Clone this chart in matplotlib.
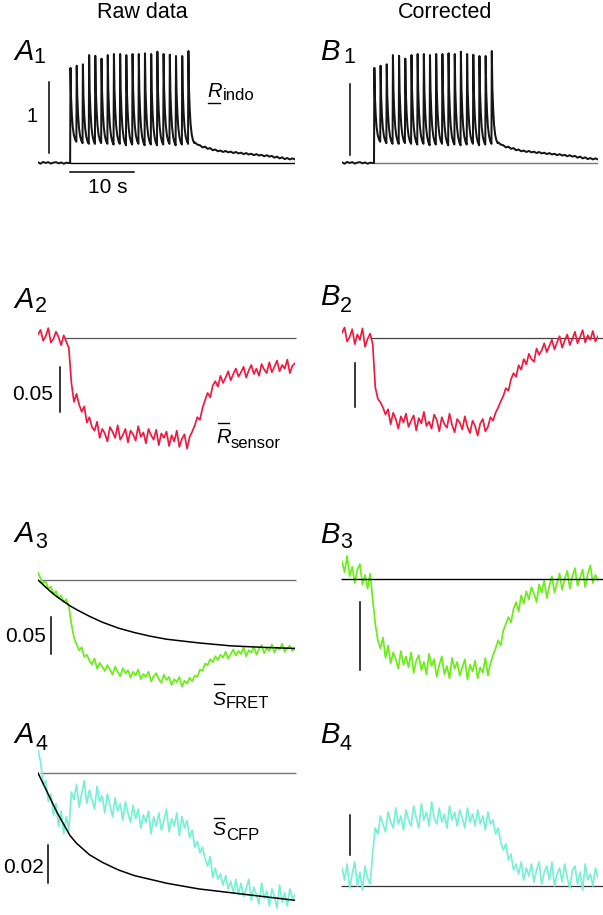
import numpy as np
import matplotlib.pyplot as plt
from matplotlib.lines import Line2D

plt.rcParams['font.family'] = ['Liberation Sans', 'DejaVu Sans']

W, H = 603, 915

# imaging traces are sampled every 0.4 s over 40 s (101 samples)
sample_dt = 0.4
t = np.arange(101) * sample_dt

# ---- indo-1 ratio (A1 / B1), 20 pulses at ~1 Hz ----
pulse_onsets = [5.00, 5.97, 6.93, 7.90, 8.86, 9.83, 10.80, 11.76, 12.73, 13.69,
                14.66, 15.63, 16.59, 17.56, 18.52, 19.49, 20.46, 21.42, 22.39, 23.35]
pulse_peaks = [1.34, 1.37, 1.39, 1.52, 1.51, 1.47, 1.52, 1.535, 1.535, 1.52,
               1.535, 1.535, 1.545, 1.535, 1.568, 1.535, 1.525, 1.507, 1.507, 1.577]
pulse_troughs = [0.30, 0.28, 0.27, 0.27, 0.28, 0.27, 0.26, 0.27, 0.25, 0.26,
                 0.27, 0.25, 0.26, 0.25, 0.26, 0.27, 0.25, 0.26, 0.27, 0.28]
pulse_period = 0.97
# shape of one transient: fraction of period vs fraction of (peak - trough)
decay_frac_t = [0.06, 0.15, 0.28, 0.42, 0.60, 0.80, 1.00]
decay_frac_v = [1.00, 0.60, 0.36, 0.20, 0.09, 0.03, 0.00]
indo_pre = [0.010, -0.010, 0.015, 0.000, 0.012, -0.008, 0.005, 0.012, -0.005,
            0.008, -0.010, 0.004, 0.000]
indo_post = [0.29, 0.26, 0.25, 0.22, 0.23, 0.20, 0.21, 0.18, 0.19, 0.165,
             0.175, 0.155, 0.17, 0.15, 0.16, 0.14, 0.155, 0.135, 0.145, 0.125,
             0.14, 0.12, 0.13, 0.11, 0.125, 0.105, 0.115, 0.095, 0.11, 0.09,
             0.10, 0.075, 0.09, 0.065, 0.08, 0.055, 0.07, 0.05, 0.065, 0.05]

# ---- sensor ratio (A2 raw, B2 corrected) ----
r_sensor_raw = [
    1.004, 1.009, 0.997, 1.002, 1.011, 0.995, 0.999, 1.007, 1.001, 0.992, 1.003, 0.996, 0.989,
    0.950, 0.929, 0.938, 0.926, 0.918, 0.924, 0.906, 0.912, 0.901, 0.897, 0.907, 0.889, 0.899,
    0.894, 0.885, 0.901, 0.896, 0.889, 0.903, 0.887, 0.892, 0.899, 0.884, 0.897, 0.893, 0.886,
    0.902, 0.890, 0.895, 0.883, 0.899, 0.892, 0.887, 0.898, 0.881, 0.894, 0.889, 0.896, 0.880,
    0.892, 0.885, 0.897, 0.879, 0.888, 0.893, 0.877, 0.890, 0.896, 0.903, 0.912, 0.909, 0.922,
    0.931, 0.939, 0.934, 0.947, 0.952, 0.946, 0.958, 0.950, 0.956, 0.963, 0.953, 0.960, 0.966,
    0.957, 0.962, 0.968, 0.956, 0.964, 0.970, 0.960, 0.966, 0.958, 0.971, 0.965, 0.961, 0.973,
    0.962, 0.968, 0.975, 0.963, 0.970, 0.966, 0.976, 0.961, 0.969, 0.972]
r_sensor_corr = [
    1.006, 1.012, 0.996, 1.001, 1.010, 0.993, 1.004, 0.998, 1.011, 0.990, 0.999, 1.005, 0.993,
    0.944, 0.931, 0.927, 0.921, 0.913, 0.919, 0.902, 0.915, 0.908, 0.897, 0.911, 0.904, 0.914,
    0.899, 0.906, 0.912, 0.895, 0.909, 0.903, 0.916, 0.900, 0.905, 0.897, 0.913, 0.907, 0.894,
    0.910, 0.902, 0.898, 0.914, 0.901, 0.893, 0.908, 0.904, 0.896, 0.911, 0.899, 0.892, 0.906,
    0.900, 0.889, 0.903, 0.908, 0.894, 0.899, 0.910, 0.906, 0.915, 0.921, 0.928, 0.934, 0.943,
    0.940, 0.953, 0.960, 0.956, 0.969, 0.964, 0.976, 0.970, 0.982, 0.976, 0.973, 0.988, 0.981,
    0.986, 0.994, 0.984, 0.991, 0.998, 0.987, 0.995, 1.002, 0.989, 0.997, 1.004, 0.992, 0.999,
    1.007, 0.994, 1.001, 1.009, 0.995, 1.003, 0.998, 1.008, 0.996, 1.002]

# ---- FRET signal (A3 raw with bleaching fit, B3 corrected) ----
s_fret_raw = [
    1.010, 1.002, 0.996, 0.998, 0.988, 0.991, 0.981, 0.985, 0.976, 0.979, 0.970, 0.974, 0.964,
    0.941, 0.922, 0.913, 0.905, 0.909, 0.896, 0.899, 0.891, 0.886, 0.894, 0.880, 0.888, 0.883,
    0.877, 0.885, 0.879, 0.872, 0.883, 0.876, 0.870, 0.881, 0.874, 0.878, 0.868, 0.876, 0.871,
    0.879, 0.866, 0.873, 0.869, 0.876, 0.863, 0.870, 0.874, 0.866, 0.861, 0.872, 0.865, 0.869,
    0.858, 0.866, 0.862, 0.869, 0.856, 0.864, 0.860, 0.868, 0.863, 0.871, 0.869, 0.879, 0.877,
    0.887, 0.885, 0.893, 0.889, 0.897, 0.892, 0.899, 0.895, 0.903, 0.894, 0.900, 0.906, 0.898,
    0.904, 0.900, 0.909, 0.897, 0.905, 0.902, 0.910, 0.899, 0.907, 0.912, 0.901, 0.908, 0.904,
    0.913, 0.902, 0.909, 0.906, 0.914, 0.903, 0.908, 0.911, 0.904, 0.908]
fret_fit_t = [0, 1, 2, 3, 4, 5, 6, 8, 10, 12.5, 15, 17.5, 20, 25, 30, 35, 40]
fret_fit_v = [1.000, 0.992, 0.984, 0.977, 0.971, 0.965, 0.960, 0.951, 0.943, 0.935,
              0.929, 0.924, 0.920, 0.915, 0.911, 0.909, 0.9075]
s_fret_corr = [
    1.013, 1.005, 1.017, 1.002, 1.009, 0.997, 1.007, 1.011, 0.996, 1.003, 0.993, 1.004, 0.985,
    0.967, 0.955, 0.949, 0.957, 0.942, 0.951, 0.938, 0.946, 0.941, 0.934, 0.947, 0.937, 0.943,
    0.935, 0.946, 0.931, 0.940, 0.944, 0.933, 0.939, 0.930, 0.945, 0.936, 0.941, 0.928, 0.937,
    0.943, 0.930, 0.936, 0.927, 0.942, 0.934, 0.939, 0.929, 0.935, 0.941, 0.926, 0.937, 0.932,
    0.940, 0.927, 0.935, 0.931, 0.942, 0.929, 0.938, 0.944, 0.949, 0.955, 0.951, 0.962, 0.967,
    0.972, 0.968, 0.978, 0.983, 0.976, 0.988, 0.982, 0.991, 0.985, 0.994, 0.989, 0.983, 0.996,
    0.990, 0.999, 0.986, 0.995, 1.002, 0.990, 0.997, 1.004, 0.992, 1.000, 1.006, 0.993, 1.002,
    1.008, 0.995, 1.001, 1.007, 0.994, 1.004, 1.010, 0.997, 1.003, 0.999]

# ---- CFP signal (A4 raw with bleaching fit, B4 corrected) ----
s_cfp_raw = [
    1.012, 1.006, 0.994, 0.996, 0.985, 0.989, 0.978, 0.984, 0.972, 0.980, 0.968, 0.977, 0.970,
    0.990, 0.986, 0.994, 0.982, 0.989, 0.996, 0.984, 0.991, 0.986, 0.981, 0.993, 0.985, 0.988,
    0.979, 0.989, 0.983, 0.977, 0.987, 0.980, 0.984, 0.975, 0.985, 0.979, 0.974, 0.983, 0.976,
    0.981, 0.971, 0.978, 0.974, 0.980, 0.968, 0.977, 0.972, 0.979, 0.970, 0.975, 0.981, 0.969,
    0.976, 0.972, 0.979, 0.967, 0.977, 0.971, 0.975, 0.966, 0.970, 0.961, 0.964, 0.958, 0.961,
    0.955, 0.951, 0.956, 0.945, 0.950, 0.944, 0.947, 0.941, 0.946, 0.939, 0.943, 0.937, 0.944,
    0.936, 0.942, 0.935, 0.939, 0.944, 0.933, 0.940, 0.936, 0.931, 0.942, 0.934, 0.938, 0.930,
    0.939, 0.935, 0.929, 0.941, 0.932, 0.937, 0.930, 0.939, 0.934, 0.936]
cfp_fit_t = [0, 1, 2, 3, 4, 5, 6, 8, 10, 12.5, 15, 17.5, 20, 25, 30, 35, 40]
cfp_fit_v = [1.000, 0.993, 0.986, 0.979, 0.973, 0.967, 0.963, 0.957, 0.953, 0.949,
             0.946, 0.944, 0.942, 0.939, 0.937, 0.935, 0.933]
s_cfp_corr = [
    1.009, 1.003, 1.011, 0.999, 1.006, 1.012, 1.000, 1.007, 0.998, 1.010, 1.004, 1.001, 1.017,
    1.029, 1.026, 1.035, 1.031, 1.027, 1.037, 1.032, 1.029, 1.039, 1.031, 1.035, 1.028, 1.038,
    1.033, 1.030, 1.040, 1.034, 1.029, 1.041, 1.033, 1.037, 1.030, 1.042, 1.034, 1.031, 1.039,
    1.032, 1.036, 1.029, 1.040, 1.033, 1.037, 1.030, 1.038, 1.034, 1.029, 1.039, 1.032, 1.036,
    1.030, 1.038, 1.031, 1.035, 1.028, 1.037, 1.031, 1.033, 1.026, 1.029, 1.022, 1.018, 1.021,
    1.013, 1.016, 1.008, 1.011, 1.006, 1.012, 1.003, 1.009, 1.005, 1.011, 1.002, 1.008, 1.012,
    1.001, 1.007, 1.010, 1.003, 1.012, 1.000, 1.006, 1.009, 1.002, 1.011, 1.004, 0.999, 1.008,
    1.010, 1.001, 1.007, 0.998, 1.011, 1.003, 1.006, 1.000, 1.009, 1.004]

RED = '#f01a40'
GREEN = '#6aee16'
CYAN = '#78f0d6'

# build the indo-1 time course from the pulse table
indo_t = list(t[:13])
indo_v = list(indo_pre)
level = indo_v[-1]
for onset, peak, trough in zip(pulse_onsets, pulse_peaks, pulse_troughs):
    indo_t.append(onset)
    indo_v.append(level)
    for ft, fv in zip(decay_frac_t, decay_frac_v):
        indo_t.append(onset + ft * pulse_period)
        indo_v.append(trough + (peak - trough) * fv)
    level = trough
indo_t += list(t[61:])
indo_v += indo_post

fig = plt.figure(figsize=(W / 100, H / 100), dpi=100)


def panel(x0, x1, top, bottom, y_ref, v_ref, k):
    # axes placed in pixel units, y scaled so that v_ref sits at pixel row y_ref
    ax = fig.add_axes([x0 / W, 1 - bottom / H, (x1 - x0) / W, (bottom - top) / H])
    ax.set_xlim(0, 40)
    ax.set_ylim(v_ref - (bottom - y_ref) / k, v_ref + (y_ref - top) / k)
    ax.axis('off')
    return ax


def ftext(x, y, s, **kw):
    fig.text(x / W, 1 - y / H, s, va='baseline', **kw)


def fline(x0, x1, y, lw=1.0):
    fig.add_artist(Line2D([x0 / W, x1 / W], [1 - y / H, 1 - y / H], color='k', lw=lw))


AX0, AX1 = 38, 295
BX0, BX1 = 342, 598
TRACE_LW = 1.25

# A1 / B1
for x0, x1, bar_t, bar_lo, base_col, base_t0 in [(AX0, AX1, 1.7, 0.14, 'k', 5.0),
                                                  (BX0, BX1, 1.2, 0.11, '#777777', 4.9)]:
    ax = panel(x0, x1, 30, 200, 163, 0.0, 71)
    ax.hlines(0.0, base_t0, 40, color=base_col, lw=1.0)
    ax.plot(indo_t, indo_v, color='#161616', lw=1.45)
    ax.plot([bar_t, bar_t], [bar_lo, bar_lo + 1.0], color='k', lw=1.1, clip_on=False)
    if x0 == AX0:
        ax.plot([5.0, 15.0], [-0.13, -0.13], color='k', lw=1.1, clip_on=False)

# A2
ax = panel(AX0, AX1, 300, 470, 338, 1.0, 900)
ax.hlines(1.0, 4.2, 40.2, color='#555555', lw=0.9, clip_on=False)
ax.plot(t, r_sensor_raw, color=RED, lw=TRACE_LW)
ax.plot([3.4, 3.4], [0.918, 0.968], color='k', lw=1.1, clip_on=False)
# B2
ax = panel(BX0, BX1, 300, 470, 338, 1.0, 880)
ax.hlines(1.0, 4.4, 40.8, color='#444444', lw=0.9, clip_on=False)
ax.plot(t, r_sensor_corr, color=RED, lw=TRACE_LW)
ax.plot([2.0, 2.0], [0.9216, 0.9716], color='k', lw=1.1, clip_on=False)

# A3
ax = panel(AX0, AX1, 540, 710, 580, 1.0, 740)
ax.hlines(1.0, 0.3, 40.2, color='#666666', lw=0.9, clip_on=False)
ax.plot(t, s_fret_raw, color=GREEN, lw=TRACE_LW)
ax.plot(fret_fit_t, fret_fit_v, color='k', lw=1.1)
ax.plot([2.0, 2.0], [0.90, 0.95], color='k', lw=1.1, clip_on=False)
# B3
ax = panel(BX0, BX1, 540, 710, 579, 1.0, 1360)
ax.plot(t, s_fret_corr, color=GREEN, lw=TRACE_LW)
ax.hlines(1.0, -0.2, 40.8, color='k', lw=1.0, clip_on=False)
ax.plot([2.8, 2.8], [0.933, 0.983], color='k', lw=1.1, clip_on=False)

# A4
ax = panel(AX0, AX1, 740, 910, 773, 1.0, 1900)
ax.hlines(1.0, 0.3, 40.2, color='#777777', lw=1.0, clip_on=False)
ax.plot(t, s_cfp_raw, color=CYAN, lw=TRACE_LW)
ax.plot(cfp_fit_t, cfp_fit_v, color='k', lw=1.1)
ax.plot([1.6, 1.6], [0.942, 0.962], color='k', lw=1.1, clip_on=False)
# B4
ax = panel(BX0, BX1, 740, 910, 886, 1.0, 2000)
ax.hlines(1.0, -0.2, 40.8, color='#333333', lw=0.9, clip_on=False)
ax.plot(t, s_cfp_corr, color=CYAN, lw=TRACE_LW)
ax.plot([1.2, 1.2], [1.0155, 1.0355], color='k', lw=1.1, clip_on=False)

# column titles
ftext(142, 18, 'Raw data', size=15.5, ha='center')
ftext(445, 18, 'Corrected', size=15.5, ha='center')

# panel labels: letter x, letter baseline, subscript x, subscript baseline
panel_labels = [('A', '1', 14, 60, 33, 63), ('B', '1', 320, 60, 343, 63),
                ('A', '2', 14, 308, 35, 312), ('B', '2', 320, 305, 340, 312),
                ('A', '3', 14, 542, 35, 548), ('B', '3', 320, 543, 340, 548),
                ('A', '4', 14, 743, 35, 750), ('B', '4', 320, 743, 340, 750)]
for letter, num, lx, ly, sx, sy in panel_labels:
    ftext(lx, ly, letter, size=21, style='italic')
    ftext(sx, sy, num, size=15.5)

# scale bar labels
ftext(38, 122, '1', size=14.5, ha='right')
ftext(108, 193, '10 s', size=15, ha='center')
ftext(53, 400, '0.05', size=15, ha='right')
ftext(46, 642, '0.05', size=15, ha='right')
ftext(44, 873, '0.02', size=15, ha='right')

# signal names
ftext(207, 97, 'R', size=14.5, style='italic')
ftext(223, 100, 'indo', size=12)
fline(208, 220, 103)
ftext(216, 443, 'R', size=14.5, style='italic')
ftext(231, 448, 'sensor', size=12)
fline(218, 229, 423)
ftext(212, 705, 'S', size=14, style='italic')
ftext(226, 708, 'FRET', size=12)
fline(214, 224, 684)
ftext(212, 835, 'S', size=14, style='italic')
ftext(226, 840, 'CFP', size=12)
fline(214, 224, 818)

fig.savefig('out.png', dpi=100)
